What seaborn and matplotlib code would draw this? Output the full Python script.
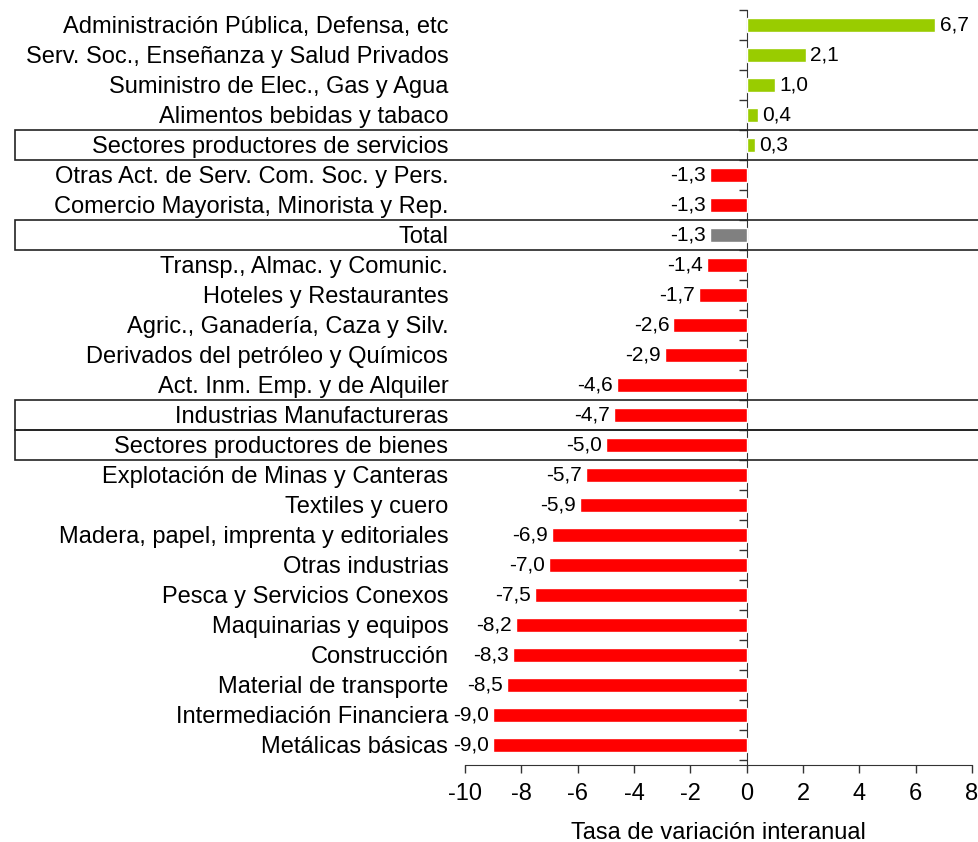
import matplotlib
matplotlib.use("Agg")
import matplotlib.pyplot as plt
import matplotlib.transforms as mtrans
from matplotlib.patches import Rectangle
import seaborn as sns
import pandas as pd

# === Data ===
sectors = [
    "Administración Pública, Defensa, etc",
    "Serv. Soc., Enseñanza y Salud Privados",
    "Suministro de Elec., Gas y Agua",
    "Alimentos bebidas y tabaco",
    "Sectores productores de servicios",
    "Otras Act. de Serv. Com. Soc. y Pers.",
    "Comercio Mayorista, Minorista y Rep.",
    "Total",
    "Transp., Almac. y Comunic.",
    "Hoteles y Restaurantes",
    "Agric., Ganadería, Caza y Silv.",
    "Derivados del petróleo y Químicos",
    "Act. Inm. Emp. y de Alquiler",
    "Industrias Manufactureras",
    "Sectores productores de bienes",
    "Explotación de Minas y Canteras",
    "Textiles y cuero",
    "Madera, papel, imprenta y editoriales",
    "Otras industrias",
    "Pesca y Servicios Conexos",
    "Maquinarias y equipos",
    "Construcción",
    "Material de transporte",
    "Intermediación Financiera",
    "Metálicas básicas",
]
rates = [6.7, 2.1, 1.0, 0.4, 0.3, -1.3, -1.3, -1.3, -1.4, -1.7, -2.6, -2.9,
         -4.6, -4.7, -5.0, -5.7, -5.9, -6.9, -7.0, -7.5, -8.2, -8.3, -8.5,
         -9.0, -9.0]
boxed = ["Sectores productores de servicios", "Total",
         "Industrias Manufactureras", "Sectores productores de bienes"]
x_ticks = [-10, -8, -6, -4, -2, 0, 2, 4, 6, 8]

df = pd.DataFrame({"sector": sectors, "rate": rates})

def bar_color(row):
    if row["sector"] == "Total":
        return "#808080"
    return "#99CC00" if row["rate"] > 0 else "#FF0000"

palette = {r["sector"]: bar_color(r) for _, r in df.iterrows()}

# === Plot ===
sns.set_style("white")
plt.rcParams["font.family"] = ["Liberation Sans", "DejaVu Sans"]
plt.rcParams["text.color"] = "black"
plt.rcParams["axes.labelcolor"] = "black"
plt.rcParams["xtick.labelcolor"] = "black"
plt.rcParams["ytick.labelcolor"] = "black"

fig = plt.figure(figsize=(9.79, 8.42), dpi=100)
ax = fig.add_axes([465 / 979, 1 - 765 / 842, (972 - 465) / 979, (765 - 10) / 842])

sns.barplot(data=df, y="sector", x="rate", hue="sector", palette=palette,
            legend=False, width=0.45, orient="h", ax=ax, saturation=1)

for cont in ax.containers:
    lbls = [f"{v:.1f}".replace(".", ",") for v in cont.datavalues]
    ax.bar_label(cont, labels=lbls, padding=3, fontsize=15, color="black")

ax.set_xlim(-10, 8)
ax.set_ylim(len(sectors) - 0.33, -0.5)
ax.set_xticks(x_ticks)
ax.set_xticklabels([str(t) for t in x_ticks], fontsize=17)
ax.tick_params(axis="x", direction="out", length=6, width=1, color="#333333",
               bottom=True, pad=7)
ax.tick_params(axis="y", length=0, pad=12, labelsize=17)
ax.set_ylabel("")
ax.set_xlabel("Tasa de variación interanual", fontsize=17, labelpad=12)

for s in ["top", "right", "left"]:
    ax.spines[s].set_visible(False)
ax.spines["bottom"].set_color("#333333")

# vertical axis at zero with ticks between categories
sec = ax.secondary_yaxis(10 / 18)
sec.set_yticks([i - 0.5 for i in range(len(sectors) + 1)])
sec.set_yticklabels([])
sec.tick_params(axis="y", direction="in", length=6, width=1, color="#333333")
for s in sec.spines.values():
    s.set_color("#333333")

# boxes around summary rows
trans = mtrans.blended_transform_factory(fig.transFigure, ax.transData)
for name in boxed:
    i = sectors.index(name)
    ax.add_patch(Rectangle((15 / 979, i - 0.5), 1 - 15 / 979, 1.0,
                           transform=trans, fill=False, edgecolor="#222222",
                           linewidth=1.2, clip_on=False))

fig.savefig("out.png", dpi=100)
